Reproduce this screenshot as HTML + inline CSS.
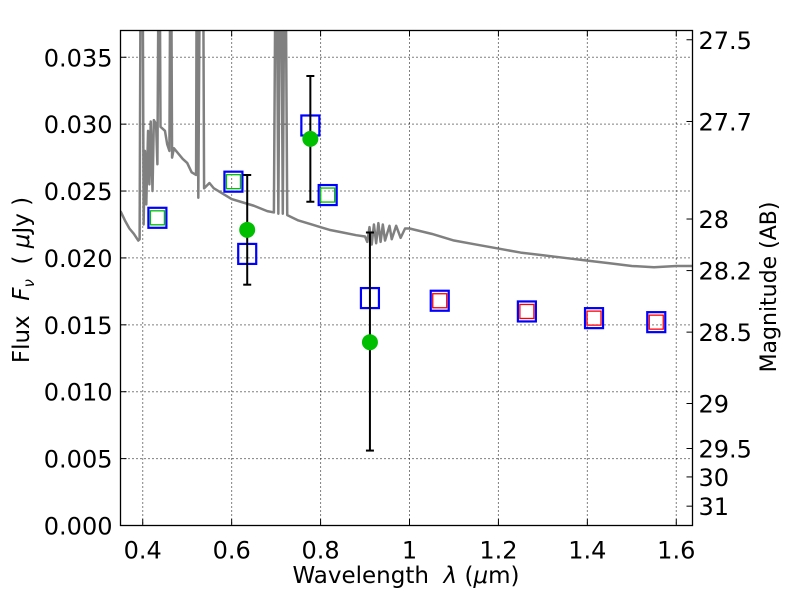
<!DOCTYPE html>
<html><head><meta charset="utf-8"><style>
body{margin:0;background:#fff}
svg text{font-family:"DejaVu Sans","Liberation Sans",sans-serif;fill:#000}
</style></head><body>
<svg id="c" width="800" height="600" xmlns="http://www.w3.org/2000/svg"></svg>
<script>
const xTicks=[0.4,0.6,0.8,1.0,1.2,1.4,1.6];
const xTickLabels=["0.4","0.6","0.8","1","1.2","1.4","1.6"];
const yTicks=[0,0.005,0.010,0.015,0.020,0.025,0.030,0.035];
const yTickLabels=["0.000","0.005","0.010","0.015","0.020","0.025","0.030","0.035"];
const magTicks=[27.5,27.7,28,28.2,28.5,29,29.5,30,31];
const magTickLabels=["27.5","27.7","28","28.2","28.5","29","29.5","30","31"];
const specWave=[0.35,0.36,0.37,0.38,0.39,0.393,0.396,0.399,0.402,0.405,0.408,0.412,0.415,0.418,0.422,0.425,0.43,0.433,0.437,0.44,0.45,0.455,0.46,0.463,0.466,0.47,0.48,0.49,0.5,0.51,0.52,0.522,0.525,0.53,0.535,0.538,0.55,0.56,0.58,0.6,0.62,0.65,0.68,0.695,0.70,0.705,0.71,0.715,0.72,0.725,0.75,0.78,0.8,0.82,0.85,0.88,0.9,0.905,0.91,0.915,0.92,0.925,0.93,0.935,0.94,0.945,0.955,0.96,0.97,0.98,0.99,1.0,1.05,1.1,1.15,1.2,1.25,1.3,1.35,1.4,1.45,1.5,1.55,1.6,1.64];
const specFlux=[0.0235,0.0228,0.0222,0.0218,0.0213,0.0214,0.05,0.05,0.0225,0.028,0.024,0.0295,0.0255,0.0302,0.025,0.0303,0.0300,0.027,0.05,0.0298,0.0295,0.0285,0.0280,0.05,0.0275,0.0282,0.0278,0.0274,0.0271,0.0264,0.0262,0.05,0.0245,0.05,0.05,0.0252,0.0256,0.0252,0.0248,0.0244,0.0242,0.0239,0.0235,0.0234,0.05,0.0233,0.05,0.0233,0.05,0.0232,0.0228,0.0225,0.0223,0.0221,0.0219,0.0217,0.0216,0.0212,0.0223,0.0210,0.0225,0.0211,0.0226,0.0212,0.0225,0.0213,0.0224,0.0214,0.0224,0.0215,0.0222,0.0222,0.0218,0.0213,0.0210,0.0207,0.0204,0.0202,0.0200,0.0198,0.0196,0.0194,0.0193,0.0194,0.0194];
const bandWave=[0.433,0.604,0.635,0.777,0.816,0.911,1.068,1.264,1.415,1.555];
const bandFlux=[0.0230,0.0257,0.0203,0.0299,0.0247,0.0170,0.0168,0.0160,0.0155,0.0152];
const modelType=["g","g","","","g","","r","r","r","r"];
const obsWave=[0.635,0.777,0.911];
const obsFlux=[0.0221,0.0289,0.0137];
const obsLow=[0.0180,0.0242,0.0056];
const obsHigh=[0.0262,0.0336,0.0219];

const L=120.5,R=692.5,T=30.5,B=525.5,XMIN=0.35,XMAX=1.6365,YMIN=0,YMAX=0.037;
const sx=v=>L+(v-XMIN)/(XMAX-XMIN)*(R-L);
const sy=v=>B-(v-YMIN)/(YMAX-YMIN)*(B-T);
const magToFlux=m=>Math.pow(10,(23.9-m)/2.5);
const svg=document.getElementById('c');
const NS="http://www.w3.org/2000/svg";
function mk(tag,attrs,parent){const e=document.createElementNS(NS,tag);for(const k in attrs)e.setAttribute(k,attrs[k]);(parent||svg).appendChild(e);return e;}
const defs=mk('defs',{});const cp=mk('clipPath',{id:'clip'},defs);mk('rect',{x:L,y:T,width:R-L,height:B-T},cp);

xTicks.forEach((t,i)=>{
  const g=mk('line',{x1:sx(t),x2:sx(t),y1:T,y2:B,stroke:'#000','stroke-width':1,'stroke-dasharray':'1,3'});
  
  
  mk('line',{x1:sx(t),x2:sx(t),y1:B,y2:B-6,stroke:'#000'});
  mk('line',{x1:sx(t),x2:sx(t),y1:T,y2:T+6,stroke:'#000'});
  const tx=mk('text',{x:sx(t),y:B+33,'font-size':24,'text-anchor':'middle'});tx.textContent=xTickLabels[i];
  
  
});
yTicks.forEach((t,i)=>{
  if(t>0){const g=mk('line',{x1:L,x2:R,y1:sy(t),y2:sy(t),stroke:'#000','stroke-width':1,'stroke-dasharray':'1,3'});
  
  }
  mk('line',{x1:L,x2:L+6,y1:sy(t),y2:sy(t),stroke:'#000'});
  const tx=mk('text',{x:L-8,y:sy(t)+9,'font-size':24,'text-anchor':'end'});tx.textContent=yTickLabels[i];
  
  
});
magTicks.forEach((m,i)=>{
  const y=sy(magToFlux(m));
  mk('line',{x1:R,x2:R-6,y1:y,y2:y,stroke:'#000'});
  const tx=mk('text',{x:R+6,y:y+9,'font-size':24});tx.textContent=magTickLabels[i];
  
  
});

const sp=mk('polyline',{points:specWave.map((w,i)=>sx(w)+','+sy(specFlux[i])).join(' '),fill:'none',stroke:'#808080','stroke-width':2.5,'clip-path':'url(#clip)','stroke-linejoin':'round'});



bandWave.forEach((w,i)=>{
  const x=sx(w),y=sy(bandFlux[i]);
  const r=mk('rect',{x:x-9,y:y-10,width:18,height:20,fill:'none',stroke:'#0000ff','stroke-width':2.2});
  
  
  if(modelType[i]){
    const c=modelType[i]==='g'?'#00bf00':'#ff0000';
    const s=mk('rect',{x:x-7,y:y-7,width:14,height:14,fill:'none',stroke:c,'stroke-width':1.3});
    
    
  }
});
obsWave.forEach((w,i)=>{
  const x=sx(w);
  const e=mk('g',{stroke:'#000','stroke-width':2});
  
  
  mk('line',{x1:x,x2:x,y1:sy(obsLow[i]),y2:sy(obsHigh[i])},e);
  mk('line',{x1:x-4,x2:x+4,y1:sy(obsLow[i]),y2:sy(obsLow[i])},e);
  mk('line',{x1:x-4,x2:x+4,y1:sy(obsHigh[i]),y2:sy(obsHigh[i])},e);
  const c=mk('circle',{cx:x,cy:sy(obsFlux[i]),r:8,fill:'#00bf00'});
  
  
});

const fr=mk('rect',{x:L,y:T,width:R-L,height:B-T,fill:'none',stroke:'#000','stroke-width':1.3});


</script>
<svg width="800" height="600" style="position:absolute;left:0;top:0" xmlns="http://www.w3.org/2000/svg">
<text x="406" y="583" font-size="23" text-anchor="middle" font-family="DejaVu Sans, Liberation Sans, sans-serif" xml:space="preserve">Wavelength  <tspan font-style="italic">λ</tspan> (<tspan font-style="italic">μ</tspan>m)</text>
<text transform="translate(29,280) rotate(-90)" font-size="23" text-anchor="middle" font-family="DejaVu Sans, Liberation Sans, sans-serif" xml:space="preserve">Flux  <tspan font-style="italic">F</tspan><tspan font-style="italic" font-size="15" dy="5">ν</tspan><tspan dy="-5">  ( </tspan><tspan font-style="italic">μ</tspan>Jy )</text>
<text transform="translate(776,287) rotate(-90)" font-size="22" text-anchor="middle" font-family="DejaVu Sans, Liberation Sans, sans-serif">Magnitude (AB)</text>
</svg>
</body></html>
